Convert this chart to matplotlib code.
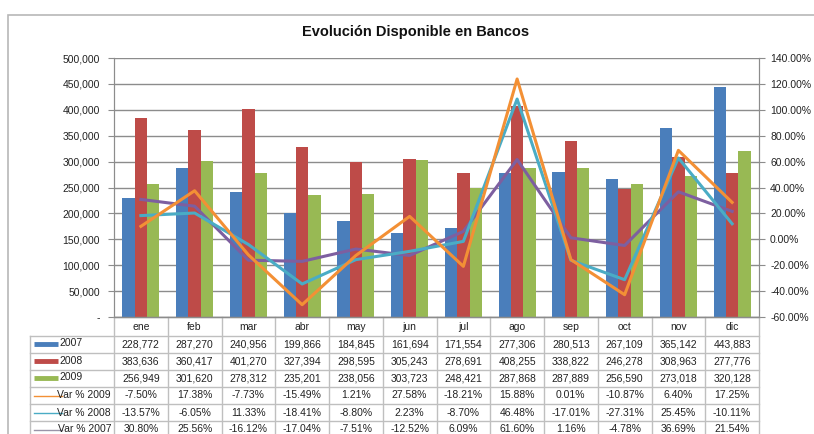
import numpy as np
import matplotlib
matplotlib.use("Agg")
import matplotlib.pyplot as plt
from matplotlib.ticker import FuncFormatter, MultipleLocator
from matplotlib.patches import Rectangle

plt.rcParams['font.family'] = ['Liberation Sans', 'DejaVu Sans']

# data
months = ['ene', 'feb', 'mar', 'abr', 'may', 'jun', 'jul', 'ago', 'sep', 'oct', 'nov', 'dic']
s2007 = [228772, 287270, 240956, 199866, 184845, 161694, 171554, 277306, 280513, 267109, 365142, 443883]
s2008 = [383636, 360417, 401270, 327394, 298595, 305243, 278691, 408255, 338822, 246278, 308963, 277776]
s2009 = [256949, 301620, 278312, 235201, 238056, 303723, 248421, 287868, 287889, 256590, 273018, 320128]

# percentages shown in the table
tab_var2009 = [-7.50, 17.38, -7.73, -15.49, 1.21, 27.58, -18.21, 15.88, 0.01, -10.87, 6.40, 17.25]
tab_var2008 = [-13.57, -6.05, 11.33, -18.41, -8.80, 2.23, -8.70, 46.48, -17.01, -27.31, 25.45, -10.11]
tab_var2007 = [30.80, 25.56, -16.12, -17.04, -7.51, -12.52, 6.09, 61.60, 1.16, -4.78, 36.69, 21.54]

# lines as drawn in the chart
line_var2009 = [10.0, 37.5, -12.0, -50.5, -12.5, 17.7, -20.9, 123.8, -15.7, -42.8, 68.7, 28.5]
line_var2008 = [18.3, 20.3, -4.0, -34.5, -15.7, -9.3, -1.6, 108.3, -16.2, -31.2, 62.8, 12.0]
line_var2007 = tab_var2007

c_blue, c_red, c_green = '#4A7EBB', '#BE4B48', '#98B954'
c_orange, c_teal, c_purple = '#F39035', '#4AACC5', '#7D5FA0'
grid_c = '#8C8C8C'
tbl_c = '#BFBFBF'

W, H = 814, 434
L, R, T, B = 114, 759, 58, 317   # plot area in pixels

fig = plt.figure(figsize=(W / 100, H / 100), dpi=100)
fig.patch.set_facecolor('white')

# outer chart frame (top and left edges visible)
fig.add_artist(Rectangle((8 / W, -0.2), 1.2, 1.2 - 15 / H, transform=fig.transFigure,
                         fill=False, edgecolor='#B8B8B8', lw=1.2))

ax = fig.add_axes([L / W, 1 - B / H, (R - L) / W, (B - T) / H])
x = np.arange(len(months))
bw = 0.228
ax.bar(x - bw, s2007, bw, color=c_blue, zorder=3)
ax.bar(x, s2008, bw, color=c_red, zorder=3)
ax.bar(x + bw, s2009, bw, color=c_green, zorder=3)
ax.set_xlim(-0.5, 11.5)
ax.set_ylim(0, 500000)
ax.yaxis.set_major_locator(MultipleLocator(50000))
ax.yaxis.set_major_formatter(FuncFormatter(lambda v, p: '-' if v == 0 else f'{int(v):,}'))
ax.grid(axis='y', color=grid_c, lw=1, zorder=0)
ax.set_xticks([])
ax.tick_params(axis='y', labelsize=7.5, length=4, color=grid_c, labelcolor='#222222', pad=6)
for s in ax.spines.values():
    s.set_color(grid_c)
ax.spines['top'].set_visible(False)

ax2 = ax.twinx()
ax2.plot(x, line_var2007, color=c_purple, lw=2.2, zorder=4)
ax2.plot(x, line_var2008, color=c_teal, lw=2.2, zorder=5)
ax2.plot(x, line_var2009, color=c_orange, lw=2.2, zorder=6)
ax2.set_ylim(-60, 140)
ax2.yaxis.set_major_locator(MultipleLocator(20))
ax2.yaxis.set_major_formatter(FuncFormatter(lambda v, p: f'{v:.2f}%'))
ax2.tick_params(axis='y', labelsize=7.5, length=4, color=grid_c, labelcolor='#222222', pad=4)
for s in ax2.spines.values():
    s.set_color(grid_c)
ax2.spines['top'].set_visible(False)

fig.text(416 / W, 1 - 32 / H, 'Evolución Disponible en Bancos', ha='center', va='center',
         fontsize=10.5, fontweight='bold', color='#111111')

# data table below the plot, drawn in pixel coordinates
tx0 = 30
rows = [B, 336, 353, 370, 387, 404, 421, 438]
tax = fig.add_axes([0, 0, 1, 1])
tax.set_xlim(0, W)
tax.set_ylim(H, 0)
tax.axis('off')
colw = (R - L) / len(months)
for i in range(len(months) + 1):
    tax.plot([L + i * colw] * 2, [B, rows[-1]], color=tbl_c, lw=1)
tax.plot([tx0, tx0], [rows[1], rows[-1]], color=tbl_c, lw=1)
for yb in rows[1:-1]:
    tax.plot([tx0, R], [yb, yb], color=tbl_c, lw=1)
tax.plot([L, R], [B, B], color=grid_c, lw=1)

row_labels = ['2007', '2008', '2009', 'Var % 2009', 'Var % 2008', 'Var % 2007']
row_vals = [
    [f'{v:,}' for v in s2007],
    [f'{v:,}' for v in s2008],
    [f'{v:,}' for v in s2009],
    [f'{v:.2f}%' for v in tab_var2009],
    [f'{v:.2f}%' for v in tab_var2008],
    [f'{v:.2f}%' for v in tab_var2007],
]
swatch = [c_blue, c_red, c_green, c_orange, c_teal, '#9A94A8']
tkw = dict(fontsize=7.5, color='#222222', va='center')

for i, m in enumerate(months):
    tax.text(L + (i + 0.5) * colw, (rows[0] + rows[1]) / 2, m, ha='center', **tkw)

for r, (lab, vals) in enumerate(zip(row_labels, row_vals)):
    yc = (rows[r + 1] + rows[r + 2]) / 2
    if r < 3:
        tax.plot([34, 58], [yc - 1, yc - 1], color=swatch[r], lw=3.5, solid_capstyle='butt')
        tax.text(59, yc - 1, lab, ha='left', **tkw)
    else:
        tax.plot([34, 62], [yc, yc], color=swatch[r], lw=1)
        tax.text(111, yc, lab, ha='right', **tkw)
    for i, v in enumerate(vals):
        tax.text(L + (i + 0.5) * colw, yc, v, ha='center', **tkw)

fig.savefig('out.png', dpi=100)
